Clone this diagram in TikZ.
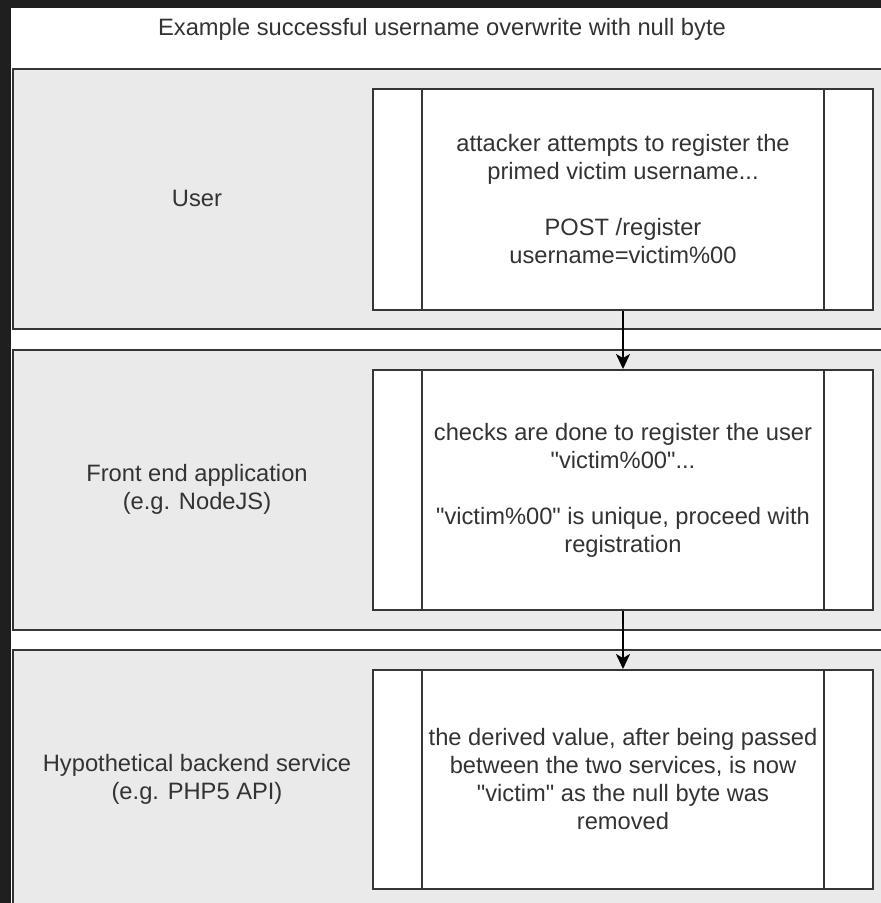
\documentclass[tikz,border=0pt]{standalone}
\usepackage{fontspec}
\setmainfont{Liberation Sans}
\usetikzlibrary{arrows.meta}
\definecolor{bgdark}{HTML}{1F1F1F}
\definecolor{lanegray}{HTML}{EAEAEA}
\definecolor{strokec}{HTML}{363636}
\definecolor{textc}{HTML}{333333}
\newcommand{\dq}{\textquotedbl}
\tikzset{
  lanebox/.style={draw=strokec, line width=2pt, fill=lanegray, rectangle, anchor=north west, minimum width=900pt, inner sep=0pt},
  procbox/.style={draw=strokec, line width=2pt, fill=white, rectangle, anchor=north west, minimum width=500pt, inner sep=0pt, align=center, text=textc, font=\fontsize{23.7}{28}\selectfont},
  lbl/.style={text=textc, align=center, inner sep=0pt, font=\fontsize{23.7}{28}\selectfont},
  sidebar/.style={draw=strokec, line width=2pt},
  arr/.style={draw=black, line width=2pt, -{Stealth[length=15pt,width=14pt,inset=4pt]}}
}
\begin{document}
\begin{tikzpicture}[x=1pt,y=-1pt]
\useasboundingbox (0,0) rectangle (881,903);
\clip (0,0) rectangle (881,903);
\fill[bgdark] (0,0) rectangle (881,903);
% title band
\fill[white] (11,8) rectangle (900,910);
\node[lbl, anchor=base] (title) at (442,35) {Example successful username overwrite with null byte};
% lanes
\node[lanebox, minimum height=260pt] (lane1) at (12,68) {};
\node[lanebox, minimum height=280pt] (lane2) at (12,349) {};
\node[lanebox, minimum height=280pt] (lane3) at (12,649) {};
% lane labels
\node[lbl] (user) at (197,198) {User};
\node[lbl] (front) at (197,489) {Front end application\\(e.g. NodeJS)};
\node[lbl] (back) at (197,779) {Hypothetical backend service\\(e.g. PHP5 API)};
% process boxes
\node[procbox, minimum height=221pt] (b1) at (372,88)
  {attacker attempts to register the\\primed victim username...\\[28pt]POST /register\\username=victim\%00};
\node[procbox, minimum height=240pt] (b2) at (372,369)
  {checks are done to register the user\\\dq victim\%00\dq...\\[28pt]\dq victim\%00\dq{} is unique, proceed with\\registration};
\node[procbox, minimum height=219pt] (b3) at (372,669)
  {the derived value, after being passed\\between the two services, is now\\\dq victim\dq{} as the null byte was\\removed};
% side bars of process shapes
\foreach \b in {b1,b2,b3}{
  \draw[sidebar] ([xshift=50pt]\b.north west) -- ([xshift=50pt]\b.south west);
  \draw[sidebar] ([xshift=-50pt]\b.north east) -- ([xshift=-50pt]\b.south east);
}
% connectors
\draw[arr] (b1.south) -- (b2.north);
\draw[arr] (b2.south) -- (b3.north);
\end{tikzpicture}
\end{document}
